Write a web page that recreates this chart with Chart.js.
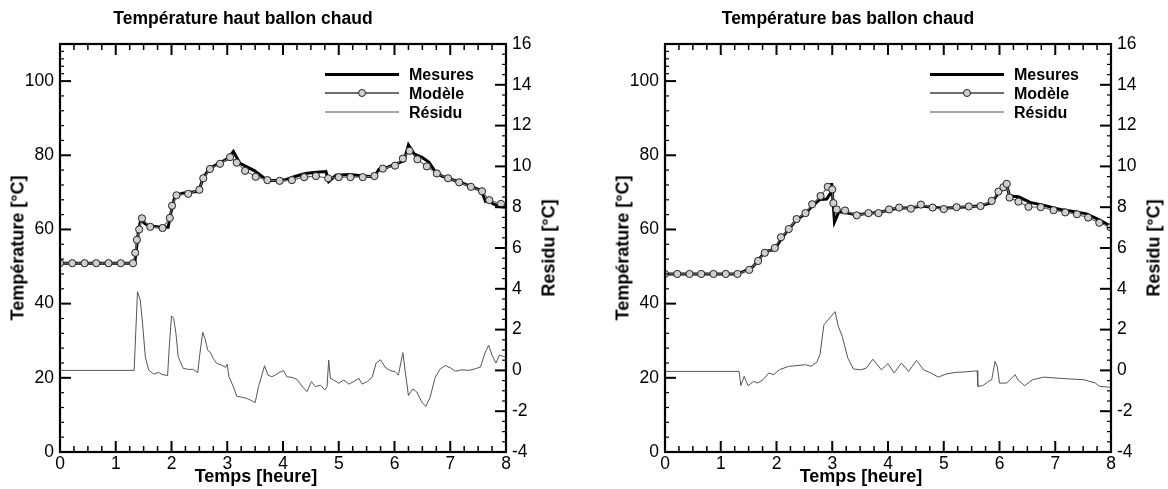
<!DOCTYPE html>
<html lang="fr">
<head>
<meta charset="utf-8">
<title>Température ballon chaud</title>
<script src="https://cdn.jsdelivr.net/npm/chart.js@4.4.1/dist/chart.umd.min.js"></script>
<style>
  html, body { margin: 0; padding: 0; background: #fff; }
  body { width: 1168px; height: 489px; position: relative; overflow: hidden;
         font-family: "Liberation Sans", Arial, sans-serif; color: #000; }
  .panel { position: absolute; top: 0; width: 584px; height: 489px; }
  .panel canvas { position: absolute; left: 0; top: 0; }
  .lbl { position: absolute; white-space: nowrap; font-weight: bold; transform: translate(-50%, -50%); }
  .ttl { font-size: 17.5px; }
  .axt { font-size: 18px; }
  .rot { transform: translate(-50%, -50%) rotate(-90deg); }
  .legend { position: absolute; font-weight: bold; font-size: 16px; }
  .legend .row { position: relative; height: 19px; line-height: 19px; }
  .legend .sw { position: absolute; left: 0; width: 74px; top: 50%; }
  .legend .txt { position: absolute; left: 84px; top: 0; }
  .sw.mes { height: 3px; margin-top: -1.5px; background: #000; }
  .sw.mod { height: 1.5px; margin-top: -0.75px; background: #6e6e6e; }
  .sw.mod i { position: absolute; left: 33px; top: -3.5px; width: 8px; height: 8px; box-sizing: border-box;
              border: 1px solid #222; border-radius: 50%; background: #cfcfcf; }
  .sw.res { height: 1.5px; margin-top: -0.75px; background: #a8a8a8; }
</style>
</head>
<body>
<div class="panel" id="pHaut" style="left:0"><canvas id="chartHaut" width="584" height="489"></canvas></div>
<div class="panel" id="pBas" style="left:584px"><canvas id="chartBas" width="584" height="489"></canvas></div>
<script>
// axis ticks
const hourTicks = [0, 1, 2, 3, 4, 5, 6, 7, 8];
const tempTicks = [0, 20, 40, 60, 80, 100];
const residuTicks = [-4, -2, 0, 2, 4, 6, 8, 10, 12, 14, 16];

// --- Température haut ballon chaud ---
const hautMesT = [0, 1.34, 1.37, 1.41, 1.45, 1.52, 1.60, 1.80, 1.94, 1.99, 2.06, 2.20, 2.49, 2.57, 2.69, 2.87, 3.02, 3.11, 3.23, 3.49,
  3.72, 3.90, 4.05, 4.20, 4.40, 4.60, 4.77, 4.82, 4.95, 5.20, 5.45, 5.64, 5.72, 5.88, 6.05, 6.17, 6.25, 6.35, 6.50, 6.62,
  6.72, 6.85, 7.00, 7.20, 7.40, 7.56, 7.63, 7.70, 7.76, 7.87, 8.00];
const hautMesV = [50.9, 50.9, 54.5, 60.0, 62.7, 61.6, 61.0, 60.6, 60.6, 64.5, 69.0, 69.8, 70.3, 74.0, 76.5, 78.0, 79.2, 81.0, 77.8, 75.8,
  73.2, 73.2, 73.4, 74.2, 75.1, 75.4, 75.6, 72.9, 74.6, 74.8, 74.4, 74.2, 76.2, 76.8, 77.8, 78.5, 82.8, 80.4, 79.4, 78.1,
  75.8, 74.4, 73.6, 72.6, 71.4, 70.5, 67.6, 68.0, 67.0, 66.2, 66.0];

const hautModT = [0, 0.22, 0.44, 0.65, 0.87, 1.09, 1.31, 1.35, 1.38, 1.42, 1.47, 1.62, 1.84, 1.97, 2.01, 2.09, 2.30, 2.50, 2.57, 2.69,
  2.87, 3.05, 3.17, 3.32, 3.51, 3.72, 3.94, 4.16, 4.38, 4.59, 4.81, 5.00, 5.21, 5.43, 5.64, 5.79, 6.01, 6.15, 6.27, 6.41,
  6.58, 6.76, 6.96, 7.16, 7.37, 7.57, 7.70, 7.91];
const hautModV = [50.9, 50.9, 50.9, 50.9, 50.9, 50.9, 50.9, 53.7, 57.2, 60.0, 63.0, 60.7, 60.4, 63.1, 66.4, 69.2, 69.6, 70.7, 73.8, 76.3,
  77.7, 79.5, 78.0, 75.8, 74.2, 73.3, 73.1, 73.3, 74.1, 74.4, 73.8, 74.1, 74.1, 74.1, 74.4, 76.4, 77.2, 79.1, 81.2, 78.9,
  77.0, 75.1, 73.8, 72.7, 71.5, 70.3, 67.9, 66.9];

const hautResT = [0, 1.33, 1.39, 1.44, 1.48, 1.53, 1.59, 1.68, 1.77, 1.83, 1.93, 1.96, 2.00, 2.04, 2.08, 2.12, 2.21, 2.30, 2.39, 2.47,
  2.51, 2.56, 2.60, 2.65, 2.69, 2.75, 2.81, 2.90, 2.97, 3.00, 3.03, 3.11, 3.17, 3.26, 3.35, 3.44, 3.50, 3.56, 3.67, 3.73,
  3.80, 3.86, 3.93, 4.01, 4.07, 4.16, 4.25, 4.34, 4.43, 4.51, 4.58, 4.67, 4.75, 4.79, 4.82, 4.85, 4.91, 5.00, 5.09, 5.18,
  5.27, 5.36, 5.42, 5.51, 5.60, 5.67, 5.75, 5.83, 5.92, 6.01, 6.07, 6.15, 6.19, 6.25, 6.33, 6.40, 6.49, 6.56, 6.64, 6.73,
  6.82, 6.91, 7.00, 7.09, 7.21, 7.33, 7.45, 7.54, 7.63, 7.69, 7.75, 7.82, 7.88, 7.96, 8.00];
const hautResV = [0, 0, 3.86, 3.45, 2.31, 0.67, 0.02, -0.18, -0.10, -0.20, -0.25, 1.16, 2.67, 2.55, 1.81, 0.67, 0.10, 0.05, 0.05, -0.11,
  0.84, 1.87, 1.57, 0.99, 0.91, 0.58, 0.34, 0.26, 0.15, 0.30, -0.31, -0.80, -1.26, -1.32, -1.37, -1.49, -1.58, -0.80, 0.23, -0.23,
  -0.31, -0.23, -0.11, -0.01, -0.31, -0.34, -0.44, -0.77, -1.04, -0.55, -0.80, -0.72, -0.96, -0.80, 0.51, -0.39, -0.47, -0.63, -0.47, -0.67,
  -0.55, -0.39, -0.67, -0.55, -0.34, 0.36, 0.52, 0.16, -0.01, -0.06, -0.23, 0.87, 0.00, -1.23, -0.90, -1.06, -1.55, -1.77, -1.31, -0.34,
  0.07, 0.24, 0.13, -0.04, 0.03, 0.00, 0.08, 0.16, 0.90, 1.23, 0.74, 0.36, 0.74, 0.69, 0.62];

// --- Température bas ballon chaud ---
const basMesT = [0, 1.30, 1.40, 1.58, 1.70, 1.79, 1.97, 2.09, 2.21, 2.36, 2.52, 2.64, 2.78, 2.90, 2.97, 2.99, 3.04, 3.12, 3.26, 3.44,
  3.65, 3.85, 4.02, 4.20, 4.41, 4.60, 4.80, 5.00, 5.23, 5.45, 5.66, 5.86, 5.98, 6.08, 6.13, 6.18, 6.34, 6.55, 6.80, 7.09,
  7.35, 7.56, 7.80, 8.00];
const basMesV = [48.0, 48.0, 48.6, 50.0, 52.2, 54.0, 54.7, 57.6, 59.9, 62.6, 64.3, 66.3, 68.1, 68.2, 69.8, 72.5, 62.0, 64.8, 64.5, 63.9,
  64.4, 64.6, 65.3, 65.8, 65.8, 66.3, 66.0, 65.7, 65.9, 66.1, 66.4, 67.2, 69.8, 71.2, 72.0, 69.0, 68.8, 67.3, 66.5, 65.4,
  64.8, 64.2, 62.5, 60.8];

const basModT = [0, 0.22, 0.44, 0.65, 0.87, 1.09, 1.30, 1.51, 1.67, 1.79, 1.97, 2.08, 2.22, 2.36, 2.52, 2.64, 2.79, 2.92, 3.00, 3.02,
  3.08, 3.23, 3.44, 3.65, 3.83, 4.02, 4.20, 4.41, 4.59, 4.80, 5.00, 5.23, 5.45, 5.66, 5.86, 5.98, 6.07, 6.13, 6.18, 6.34,
  6.52, 6.74, 6.97, 7.18, 7.39, 7.59, 7.79, 7.99];
const basModV = [48.0, 48.0, 48.0, 48.0, 48.0, 48.0, 48.0, 49.1, 51.5, 53.7, 55.0, 57.9, 60.1, 62.8, 64.4, 66.8, 69.0, 71.5, 70.8, 67.1,
  65.4, 65.1, 63.8, 64.4, 64.4, 65.4, 65.9, 65.6, 66.7, 65.9, 65.5, 66.0, 66.2, 66.3, 67.7, 70.2, 71.4, 72.3, 68.6, 67.5,
  66.1, 66.0, 65.2, 64.6, 64.1, 63.2, 61.8, 60.6];

const basResT = [0, 1.33, 1.36, 1.42, 1.49, 1.59, 1.66, 1.76, 1.86, 1.95, 2.05, 2.22, 2.35, 2.52, 2.62, 2.72, 2.78, 2.85, 3.05, 3.11,
  3.18, 3.28, 3.38, 3.51, 3.61, 3.73, 3.88, 4.00, 4.11, 4.24, 4.37, 4.51, 4.64, 4.77, 4.90, 5.04, 5.20, 5.40, 5.60, 5.61,
  5.70, 5.80, 5.86, 5.92, 5.96, 6.00, 6.13, 6.28, 6.33, 6.45, 6.59, 6.79, 6.99, 7.26, 7.52, 7.72, 7.79, 8.00];
const basResV = [-0.05, -0.05, -0.75, -0.29, -0.75, -0.54, -0.62, -0.46, -0.13, -0.21, 0.03, 0.20, 0.23, 0.28, 0.20, 0.39, 0.77, 2.23, 2.88, 2.15,
  1.66, 0.60, 0.07, 0.03, 0.11, 0.55, 0.03, 0.33, -0.13, 0.36, -0.05, 0.49, 0.03, -0.13, -0.33, -0.18, -0.10, -0.07, -0.02, -0.78,
  -0.75, -0.54, -0.46, 0.44, 0.20, -0.62, -0.62, -0.21, -0.46, -0.75, -0.46, -0.33, -0.37, -0.42, -0.46, -0.62, -0.78, -0.83];

Chart.defaults.font.family = '"Liberation Sans", Arial, sans-serif';
Chart.defaults.font.size = 17.5;
Chart.defaults.color = "#000";

const pts = (t, v) => t.map((x, i) => ({ x: x, y: v[i] }));

// frame + inward major/minor ticks on all four sides
const frameTicks = {
    id: "frameTicks",
    afterDraw(chart) {
        const { ctx, chartArea: a, scales } = chart;
        const line = (x1, y1, x2, y2, w) => {
            ctx.lineWidth = w;
            ctx.beginPath(); ctx.moveTo(x1, y1); ctx.lineTo(x2, y2); ctx.stroke();
        };
        ctx.save();
        ctx.strokeStyle = "#000";
        ctx.lineCap = "butt";
        const marks = (scale, vals, nSub) => {
            const out = [];
            vals.forEach((v, i) => {
                out.push({ p: scale.getPixelForValue(v), major: true });
                if (i < vals.length - 1) {
                    const step = (vals[i + 1] - v) / nSub;
                    for (let k = 1; k < nSub; k++) out.push({ p: scale.getPixelForValue(v + k * step), major: false });
                }
            });
            return out;
        };
        marks(scales.x, hourTicks, 4).forEach(m => {
            const len = m.major ? 11 : 6;
            line(m.p, a.bottom, m.p, a.bottom - len, m.major ? 2 : 1.5);
            line(m.p, a.top, m.p, a.top + len, m.major ? 2 : 1.5);
        });
        marks(scales.y, tempTicks.concat([110]), 5).forEach(m => {
            if (m.p < a.top + 1) return;
            line(a.left, m.p, a.left + (m.major ? 11 : 4), m.p, m.major ? 2 : 1.2);
        });
        marks(scales.y2, residuTicks, 4).forEach(m => {
            line(a.right, m.p, a.right - (m.major ? 11 : 4), m.p, m.major ? 2 : 1.2);
        });
        ctx.lineWidth = 2.2;
        ctx.strokeRect(a.left, a.top, a.right - a.left, a.bottom - a.top);
        ctx.restore();
    }
};

function buildChart(canvasId, mesT, mesV, modT, modV, resT, resV, yWidth, y2Width) {
    const tickFont = { size: 17.5 };
    return new Chart(document.getElementById(canvasId), {
        type: "line",
        data: {
            datasets: [{
                label: "Modèle",
                data: pts(modT, modV),
                yAxisID: "y",
                order: 0,
                borderColor: "#6e6e6e",
                borderWidth: 1.2,
                pointRadius: 3.6,
                pointBackgroundColor: "#cfcfcf",
                pointBorderColor: "#222",
                pointBorderWidth: 1,
                tension: 0
            }, {
                label: "Mesures",
                data: pts(mesT, mesV),
                yAxisID: "y",
                order: 1,
                borderColor: "#000",
                borderWidth: 3,
                pointRadius: 0,
                tension: 0
            }, {
                label: "Résidu",
                data: pts(resT, resV),
                yAxisID: "y2",
                order: 2,
                borderColor: "#555",
                borderWidth: 1,
                pointRadius: 0,
                tension: 0
            }]
        },
        options: {
            responsive: false,
            animation: false,
            events: [],
            layout: { padding: { top: 44 } },
            plugins: {
                legend: { display: false },
                tooltip: { enabled: false },
                title: { display: false }
            },
            scales: {
                x: {
                    type: "linear", min: 0, max: 8,
                    afterBuildTicks: s => { s.ticks = hourTicks.map(v => ({ value: v })); },
                    afterFit: s => { s.height = 37; },
                    grid: { display: false, drawTicks: false },
                    border: { display: false },
                    ticks: { padding: 2, font: tickFont, color: "#000", maxRotation: 0 }
                },
                y: {
                    position: "left", min: 0, max: 110,
                    afterBuildTicks: s => { s.ticks = tempTicks.map(v => ({ value: v })); },
                    afterFit: s => { s.width = yWidth; },
                    grid: { display: false, drawTicks: false },
                    border: { display: false },
                    ticks: { padding: 6, font: tickFont, color: "#000" }
                },
                y2: {
                    position: "right", min: -4, max: 16,
                    afterBuildTicks: s => { s.ticks = residuTicks.map(v => ({ value: v })); },
                    afterFit: s => { s.width = y2Width; },
                    grid: { display: false, drawTicks: false },
                    border: { display: false },
                    ticks: { padding: 6, font: tickFont, color: "#000" }
                }
            }
        },
        plugins: [frameTicks]
    });
}

function addText(panel, cls, text, x, y) {
    const d = document.createElement("div");
    d.className = "lbl " + cls;
    d.textContent = text;
    d.style.left = x + "px";
    d.style.top = y + "px";
    panel.appendChild(d);
}

function addOverlay(panelId, chart, title) {
    const panel = document.getElementById(panelId);
    const a = chart.chartArea;
    const midY = (a.top + a.bottom) / 2;
    addText(panel, "ttl", title, a.left + 183, 18);
    addText(panel, "axt rot", "Température [°C]", a.left - 42, midY);
    addText(panel, "axt rot", "Residu [°C]", a.right + 43, midY);
    addText(panel, "axt", "Temps [heure]", a.left + 196, 476);

    const lg = document.createElement("div");
    lg.className = "legend";
    lg.style.left = (a.left + 265) + "px";
    lg.style.top = "64.5px";
    lg.innerHTML =
        '<div class="row"><span class="sw mes"></span><span class="txt">Mesures</span></div>' +
        '<div class="row"><span class="sw mod"><i></i></span><span class="txt">Modèle</span></div>' +
        '<div class="row"><span class="sw res"></span><span class="txt">Résidu</span></div>';
    panel.appendChild(lg);
}

document.addEventListener("DOMContentLoaded", () => {
    const haut = buildChart("chartHaut", hautMesT, hautMesV, hautModT, hautModV, hautResT, hautResV, 60, 78);
    addOverlay("pHaut", haut, "Température haut ballon chaud");

    const bas = buildChart("chartBas", basMesT, basMesV, basModT, basModV, basResT, basResV, 81, 57);
    addOverlay("pBas", bas, "Température bas ballon chaud");
});
</script>
</body>
</html>
